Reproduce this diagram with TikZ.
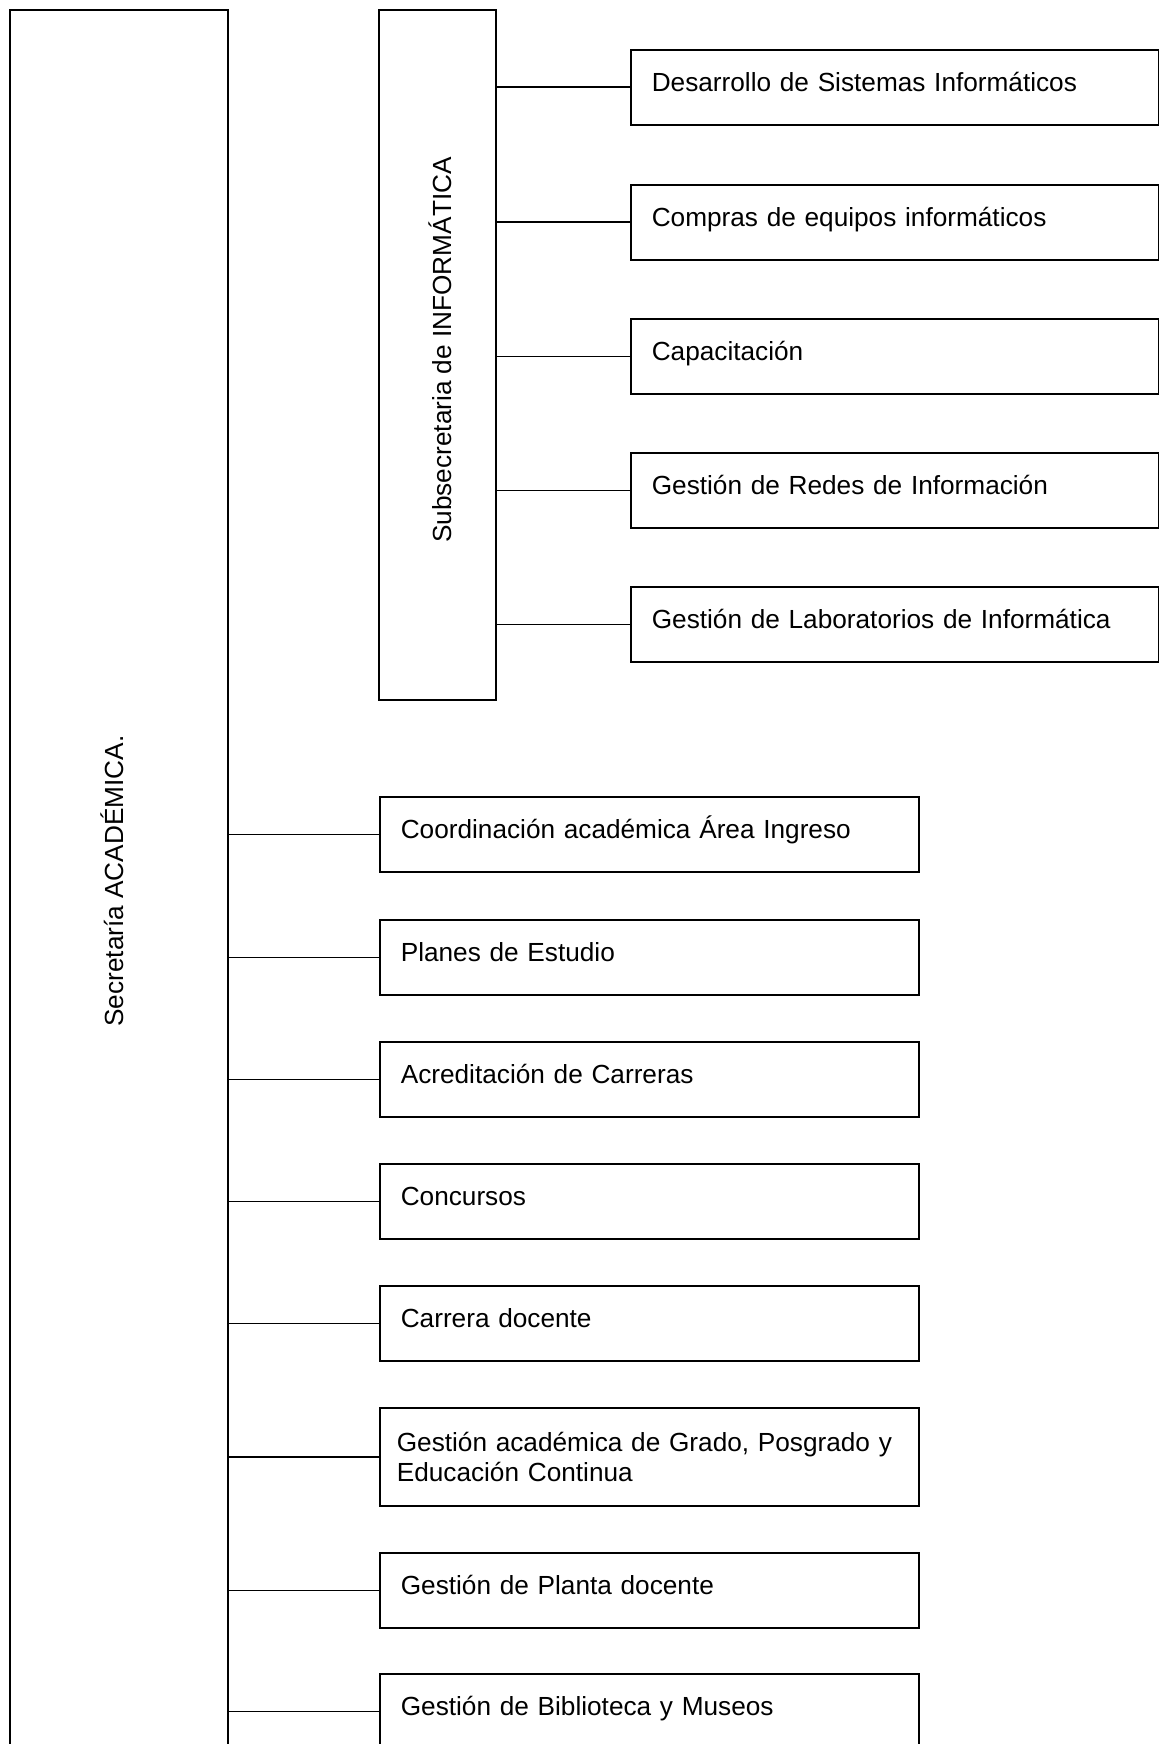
\documentclass[tikz,border=0pt]{standalone}
\usepackage{fontspec}
\setmainfont{Liberation Sans}
\begin{document}
\begin{tikzpicture}[x=0.5pt,y=-0.5pt,
  every node/.style={font=\fontsize{13.1}{15.2}\selectfont},
  frame/.style={draw, line width=0.8pt, rectangle, inner sep=0pt},
  infobox/.style={frame, anchor=north west, minimum height=37.5pt,
    text width=243pt, inner xsep=10.5pt, align=left, text height=0.72em, text depth=0.3em},
  unitbox/.style={frame, anchor=north west, minimum height=37.5pt,
    text width=248.5pt, inner xsep=10.5pt, align=left, text height=0.72em, text depth=0.3em},
  twobox/.style={frame, anchor=north west, minimum height=49pt,
    text width=252.5pt, inner xsep=8.5pt, align=left},
  link/.style={draw, line width=0.8pt},
  vtext/.style={rotate=90, inner sep=0pt}]
\useasboundingbox (0,0) rectangle (1159,1744);

% main column (open at bottom)
\node[frame, rotate=90, minimum width=871pt, minimum height=109pt] (sec) at (119,881) {};
\node[vtext] (sectext) at (112.5,881) {Secretaría ACADÉMICA.};

% sub-secretariat column
\node[frame, rotate=90, minimum width=345pt, minimum height=58.5pt] (sub) at (437.5,355) {};
\node[vtext] (subtext) at (440,350) {Subsecretaria de INFORMÁTICA};

% informatics units
\node[infobox] (i1) at (630,49)  {Desarrollo de Sistemas Informáticos};
\node[infobox] (i2) at (630,184) {Compras de equipos informáticos};
\node[infobox] (i3) at (630,318) {Capacitación};
\node[infobox] (i4) at (630,452) {Gestión de Redes de Información};
\node[infobox] (i5) at (630,586) {Gestión de Laboratorios de Informática};

% academic units
\node[unitbox] (a1) at (379,796)  {Coordinación académica Área Ingreso};
\node[unitbox] (a2) at (379,919)  {Planes de Estudio};
\node[unitbox] (a3) at (379,1041) {Acreditación de Carreras};
\node[unitbox] (a4) at (379,1163) {Concursos};
\node[unitbox] (a5) at (379,1285) {Carrera docente};
\node[twobox]  (a6) at (379,1407) {\mbox{Gestión académica de Grado, Posgrado y}\\\mbox{Educación Continua}};
\node[unitbox] (a7) at (379,1552) {Gestión de Planta docente};
\node[unitbox] (a8) at (379,1673) {Gestión de Biblioteca y Museos};

% connectors
\foreach \n in {i1,i2,i3,i4,i5}
  \draw[link] (\n.west -| sub.south) -- (\n.west);
\foreach \n in {a1,a2,a3,a4,a5,a6,a7,a8}
  \draw[link] (\n.west -| sec.south) -- (\n.west);
\end{tikzpicture}
\end{document}
